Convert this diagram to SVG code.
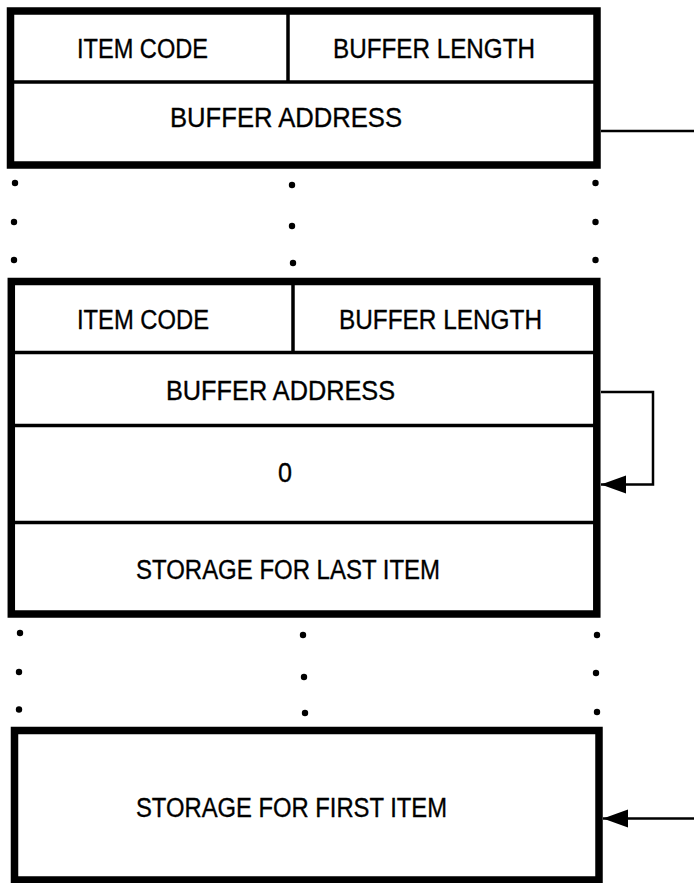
<svg xmlns="http://www.w3.org/2000/svg" width="694" height="883" viewBox="0 0 694 883">
<style>
.box{fill:#fff;stroke:#000;stroke-width:7.5}
.div{stroke:#000;stroke-width:3.5;fill:none}
.wire{stroke:#000;stroke-width:2.5;fill:none}
.t{font-family:"Liberation Sans",Arial,sans-serif;font-size:27px;fill:#000;stroke:#000;stroke-width:0.35}
.dot{fill:#000}
</style>
<defs>
<marker id="ah" markerWidth="28" markerHeight="20" refX="25" refY="9.5" orient="auto" markerUnits="userSpaceOnUse">
<path d="M0,0.5 L25,9.5 L0,18.5 Z" fill="#000"/>
</marker>
</defs>
<g id="block1">
<rect class="box" x="10.5" y="11" width="586.5" height="154"/>
<line class="div" x1="10.5" y1="82" x2="597" y2="82"/>
<line class="div" x1="288" y1="11" x2="288" y2="82"/>
<text class="t" x="77" y="58.3" textLength="131" lengthAdjust="spacingAndGlyphs">ITEM CODE</text>
<text class="t" x="333" y="58.3" textLength="202" lengthAdjust="spacingAndGlyphs">BUFFER LENGTH</text>
<text class="t" x="170" y="127" textLength="232" lengthAdjust="spacingAndGlyphs">BUFFER ADDRESS</text>
</g>
<g id="dots1">
<circle class="dot" cx="15" cy="183" r="3.2"/><circle class="dot" cx="292" cy="185" r="3.2"/><circle class="dot" cx="595.5" cy="183" r="3.2"/>
<circle class="dot" cx="14" cy="222" r="3.2"/><circle class="dot" cx="292" cy="226" r="3.2"/><circle class="dot" cx="595.5" cy="222" r="3.2"/>
<circle class="dot" cx="14" cy="260" r="3.2"/><circle class="dot" cx="293" cy="263" r="3.2"/><circle class="dot" cx="595.5" cy="260" r="3.2"/>
</g>
<g id="block2">
<rect class="box" x="11.3" y="281.5" width="585.5" height="332.5"/>
<line class="div" x1="11.3" y1="352.5" x2="597" y2="352.5"/>
<line class="div" x1="293" y1="281.5" x2="293" y2="352.5"/>
<line class="div" x1="11.3" y1="425.5" x2="597" y2="425.5"/>
<line class="div" x1="11.3" y1="522.5" x2="597" y2="522.5"/>
<text class="t" x="77" y="329" textLength="132" lengthAdjust="spacingAndGlyphs">ITEM CODE</text>
<text class="t" x="339" y="329" textLength="203" lengthAdjust="spacingAndGlyphs">BUFFER LENGTH</text>
<text class="t" x="166" y="400" textLength="229" lengthAdjust="spacingAndGlyphs">BUFFER ADDRESS</text>
<text class="t" x="278" y="482" textLength="14" lengthAdjust="spacingAndGlyphs">0</text>
<text class="t" x="136" y="579" textLength="304" lengthAdjust="spacingAndGlyphs">STORAGE FOR LAST ITEM</text>
</g>
<g id="dots2">
<circle class="dot" cx="20" cy="633" r="3.2"/><circle class="dot" cx="303" cy="635" r="3.2"/><circle class="dot" cx="597" cy="635" r="3.2"/>
<circle class="dot" cx="19" cy="672" r="3.2"/><circle class="dot" cx="304" cy="677" r="3.2"/><circle class="dot" cx="596" cy="673" r="3.2"/>
<circle class="dot" cx="19" cy="709.5" r="3.2"/><circle class="dot" cx="305" cy="713" r="3.2"/><circle class="dot" cx="597" cy="712" r="3.2"/>
</g>
<g id="block3">
<rect class="box" x="14.5" y="730.5" width="584.5" height="149.5"/>
<text class="t" x="136" y="817" textLength="311" lengthAdjust="spacingAndGlyphs">STORAGE FOR FIRST ITEM</text>
</g>
<g id="connectors">
<line class="wire" x1="601" y1="131" x2="694" y2="131"/>
<polyline class="wire" points="601,392 653,392 653,484.5 601,484.5" marker-end="url(#ah)"/>
<line class="wire" x1="694" y1="818.5" x2="603" y2="818.5" marker-end="url(#ah)"/>
</g>
</svg>
